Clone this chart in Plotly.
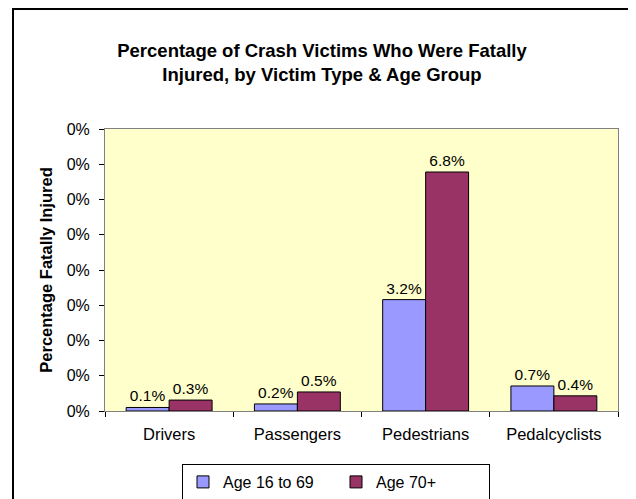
import plotly.graph_objects as go

# -------------------------------------------------------------------------
# Datos
# -------------------------------------------------------------------------
categories = ["Drivers", "Passengers", "Pedestrians", "Pedalcyclists"]
age_16_69 = [0.0010, 0.0020, 0.0316, 0.0071]
age_70_plus = [0.0031, 0.0054, 0.0678, 0.0043]
y_ticks = [0.00, 0.01, 0.02, 0.03, 0.04, 0.05, 0.06, 0.07, 0.08]
y_tick_labels = ["0%"] * len(y_ticks)  # el original redondea todo a 0%

FONT = "Arial, Liberation Sans, sans-serif"

# Geometria (px). La pagina deja 8 px de margen en el body,
# asi que las posiciones de pantalla se corrigen con OFF.
# La figura es algo mas alta que la ventana para que la leyenda
# no empuje el margen inferior.
W, H = 636, 515
OFF = 8
L, T = 105 - OFF, 129 - OFF
R, B = W - (618 - OFF), H - (411 - OFF)
pw, ph = W - L - R, H - T - B


def px_x(x):
    return (x - OFF - L) / pw


def px_y(y):
    return (H - B - (y - OFF)) / ph


fig = go.Figure()

for name, vals, color in [
    ("Age 16 to 69", age_16_69, "#9999FF"),
    ("Age 70+", age_70_plus, "#993366"),
]:
    fig.add_trace(go.Bar(
        x=categories,
        y=vals,
        name=name,
        marker=dict(color=color, line=dict(color="black", width=1)),
        texttemplate="%{y:.1%}",
        textposition="outside",
        textfont=dict(family=FONT, size=15.5, color="black"),
        cliponaxis=False,
    ))

# Marco exterior del grafico
fig.add_shape(
    type="rect", xref="paper", yref="paper",
    x0=px_x(13), x1=px_x(660), y0=px_y(9), y1=px_y(540),
    line=dict(color="black", width=2), fillcolor="rgba(0,0,0,0)",
    layer="below",
)

fig.update_layout(
    width=W,
    height=H,
    margin=dict(l=L, r=R, t=T, b=B),
    paper_bgcolor="white",
    plot_bgcolor="#FFFFCC",
    barmode="group",
    bargap=0.33,
    bargroupgap=0,
    font=dict(family=FONT, size=16, color="black"),
    title=dict(
        text="Percentage of Crash Victims Who Were Fatally<br>Injured, by Victim Type & Age Group",
        x=(322 - OFF) / W, xanchor="center",
        y=1 - 49 / H, yanchor="middle",
        font=dict(family=FONT, size=18.5, color="black", weight="bold"),
    ),
    showlegend=True,
    legend=dict(
        orientation="h",
        x=px_x(336), xanchor="center",
        y=px_y(464), yanchor="top",
        bordercolor="black", borderwidth=1,
        bgcolor="white",
        font=dict(family=FONT, size=16),
        entrywidth=108,
        itemwidth=30,
    ),
    xaxis=dict(
        automargin=False,
        showline=True, linecolor="#808080", linewidth=1,
        ticks="outside", tickson="boundaries", ticklen=5, tickcolor="black",
        mirror=True,
        ticklabelstandoff=8,
        tickfont=dict(family=FONT, size=16.5),
    ),
    yaxis=dict(
        automargin=False,
        range=[0, 0.08],
        tickvals=y_ticks,
        ticktext=y_tick_labels,
        showgrid=False,
        zeroline=False,
        showline=True, linecolor="#808080", linewidth=1, mirror=True,
        ticks="outside", ticklen=5, tickcolor="black",
        ticklabelstandoff=6,
        tickfont=dict(family=FONT, size=16),
        title=dict(
            text="Percentage Fatally Injured",
            font=dict(family=FONT, size=16.5, weight="bold"),
            standoff=9,
        ),
    ),
)

fig.write_html("out.html")
